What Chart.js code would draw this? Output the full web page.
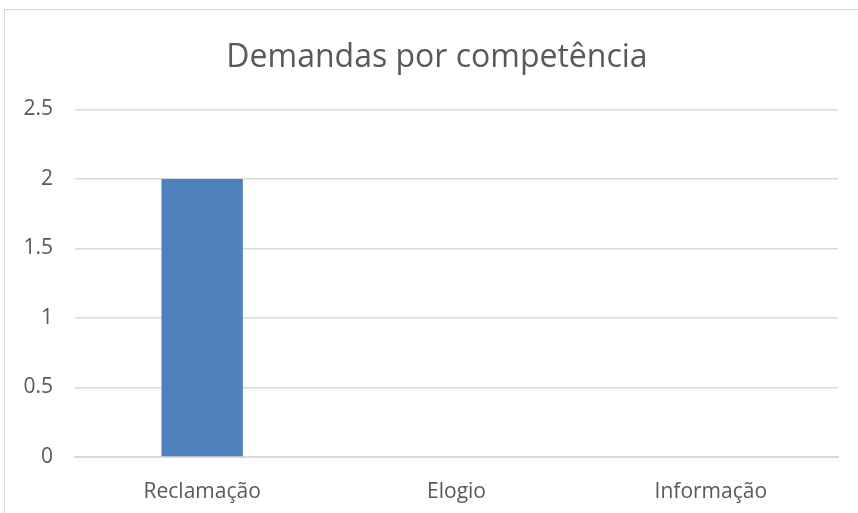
<!DOCTYPE html>
<html>
<head>
<meta charset="utf-8">
<script src="https://cdn.jsdelivr.net/npm/chart.js"></script>
<style>
  html, body { margin: 0; padding: 0; background: #fff; }
  #wrap { position: relative; width: 858px; height: 513px; overflow: hidden; }
  #frame { position: absolute; left: 4px; top: 9px; width: 900px; height: 600px; border: 1.5px solid #d9d9d9; box-sizing: border-box; }
  canvas { position: absolute; left: 0; top: 0; }
</style>
</head>
<body>
<div id="wrap">
  <div id="frame"></div>
  <canvas id="chart" width="858" height="513"></canvas>
</div>
<script>
const categorias = ['Reclamação', 'Elogio', 'Informação'];
const valores = [2, 0, 0];
const tituloGrafico = 'Demandas por competência';

// desloca o título um pouco para a direita, como no original
const deslocaTitulo = {
    id: 'deslocaTitulo',
    afterLayout(chart) {
        const t = chart.titleBlock;
        if (t) { t.left += 18; t.right += 18; }
    }
};

const ctx = document.getElementById('chart').getContext('2d');
const grafico = new Chart(ctx, {
    type: 'bar',
    data: {
        labels: categorias,
        datasets: [{
            data: valores,
            backgroundColor: '#4f81bd',
            categoryPercentage: 1,
            barPercentage: 0.32
        }]
    },
    options: {
        responsive: false,
        animation: false,
        layout: {
            padding: { left: 0, right: 20, top: 0, bottom: 0 }
        },
        plugins: {
            legend: { display: false },
            tooltip: { enabled: false },
            title: {
                display: true,
                text: tituloGrafico,
                color: '#595959',
                font: { family: 'Open Sans', size: 32, weight: 'normal' },
                padding: { top: 39, bottom: 32 }
            }
        },
        scales: {
            y: {
                min: 0,
                max: 2.5,
                ticks: {
                    stepSize: 0.5,
                    color: '#595959',
                    padding: 22,
                    font: { family: 'Open Sans', size: 21 },
                    callback: function (v) { return String(v); }
                },
                grid: { color: '#d9d9d9', lineWidth: 1.5, drawTicks: false },
                border: { display: false },
                afterFit: function (scale) { scale.width = 75; }
            },
            x: {
                ticks: {
                    color: '#595959',
                    padding: 14,
                    font: { family: 'Open Sans', size: 21 }
                },
                grid: { display: false },
                border: { color: '#d9d9d9', width: 2 },
                afterFit: function (scale) { scale.height = 56; }
            }
        }
    },
    plugins: [deslocaTitulo]
});
</script>
</body>
</html>
